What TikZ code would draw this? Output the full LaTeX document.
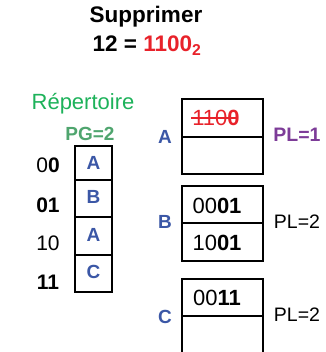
\documentclass[tikz,border=0pt]{standalone}
\usepackage{fontspec}
\setmainfont{Liberation Sans}
\definecolor{bleu}{HTML}{3B57A6}
\definecolor{rouge}{HTML}{E8222A}
\definecolor{vert}{HTML}{1DB25A}
\definecolor{vertpg}{HTML}{4FA56E}
\definecolor{violet}{HTML}{7D3C98}
\tikzset{
  lettre/.style={font=\fontsize{19}{22}\selectfont\bfseries, text=bleu},
  bits/.style={font=\fontsize{21}{24}\selectfont},
  cle/.style={font=\fontsize{22}{25}\selectfont, inner sep=0pt},
  pl/.style={font=\fontsize{19.5}{22}\selectfont},
}
\begin{document}
\begin{tikzpicture}[x=1pt, y=-1pt, line width=1.2pt]
      \useasboundingbox (0, 0) rectangle (325, 352);
      \node (titre) at (146, 17){\fontsize{22.5}{26}\selectfont\bfseries Supprimer};
      \node (valeur) at (147, 46){\fontsize{22.5}{26}\selectfont\bfseries 12 = \textcolor{rouge}{1100$_{\mathbf{2}}$}};

      % repertoire
      \node[text=vert] (rep) at (83, 104){\fontsize{22}{25}\selectfont R\'epertoire};
      \node[text=vertpg] (pg) at (90, 134){\fontsize{19}{22}\selectfont\bfseries PG=2};
      \draw(75, 146) rectangle (112, 292);
        \draw(75, 180) to (112, 180);
        \draw(75, 217) to (112, 217);
        \draw(75, 255) to (112, 255);
      \node[lettre] (d0) at (93.5, 163){A};
      \node[lettre] (d1) at (93.5, 197){B};
      \node[lettre] (d2) at (93.5, 235){A};
      \node[lettre] (d3) at (93.5, 272){C};

      \node[bits] (b0) at (48, 165){0\textbf{0}};
      \node[bits] (b1) at (48, 205){\textbf{01}};
      \node[bits] (b2) at (48, 243){10};
      \node[bits] (b3) at (48, 282){\textbf{11}};

      % paquets
      \draw(182, 99) rectangle (263, 174);
        \draw(182, 137) to (263, 137);
      \draw(182, 186) rectangle (263, 261);
        \draw(182, 223) to (263, 223);
      \draw(182, 353) to (182, 279) to (263, 279) to (263, 353);
        \draw(182, 316) to (263, 316);

      \node[lettre] (pa) at (165, 137){A};
      \node[lettre] (pb) at (165, 222){B};
      \node[lettre] (pc) at (165, 317){C};

      \node[cle, text=rouge] (k1) at (216, 118){110\textbf{0}};
        \draw[rouge, line width=1.4pt] ([xshift=-1pt]k1.west) to ([xshift=-2pt]k1.east);
      \node[cle] (k2) at (217, 206){00\textbf{01}};
      \node[cle] (k3) at (217, 243){10\textbf{01}};
      \node[cle] (k4) at (217, 298){00\textbf{11}};

      \node[pl, text=violet] (pla) at (297, 135){\bfseries PL=1};
      \node[pl] (plb) at (297, 222){PL=2};
      \node[pl] (plc) at (297, 315){PL=2};
    \end{tikzpicture}
\end{document}
